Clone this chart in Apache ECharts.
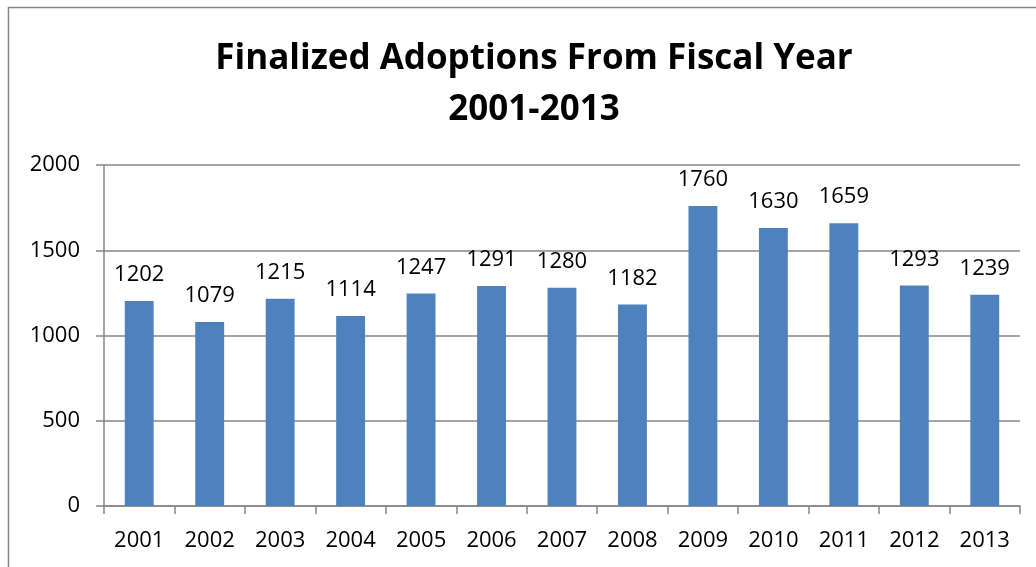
<!DOCTYPE html>
<html>
<head>
<meta charset="utf-8">
<script src="https://cdn.jsdelivr.net/npm/echarts@6/dist/echarts.min.js"></script>
<style>
html,body{margin:0;padding:0;background:#fff;}
#main{width:1036px;height:567px;}
</style>
</head>
<body>
<div id="main"></div>
<script>
const categories = ['2001','2002','2003','2004','2005','2006','2007','2008','2009','2010','2011','2012','2013'];
const adoptions = [1202,1079,1215,1114,1247,1291,1280,1182,1760,1630,1659,1293,1239];
const yTicks = [0,500,1000,1500,2000];

const chart = echarts.init(document.getElementById('main'), null, {renderer:'canvas'});
const font = '"Open Sans", sans-serif';
chart.setOption({
  animation:false,
  backgroundColor:'#fff',
  title:{
    text:'Finalized Adoptions From Fiscal Year\n2001-2013',
    left:529, top:29, textAlign:'center',
    textStyle:{fontFamily:font, fontWeight:'bold', fontSize:35, lineHeight:51, color:'#000'}
  },
  graphic:[{
    type:'rect', shape:{x:8.5,y:7.5,width:1100,height:700},
    style:{fill:'none', stroke:'#868686', lineWidth:1.5}, silent:true
  }],
  grid:{left:104, right:16, top:165, bottom:61, containLabel:false},
  xAxis:{
    type:'category', data:categories, boundaryGap:true,
    axisLine:{show:true, lineStyle:{color:'#868686', width:1.5}},
    axisTick:{show:true, length:8, lineStyle:{color:'#868686', width:1.5}},
    axisLabel:{color:'#000', fontFamily:font, fontSize:22, margin:24}
  },
  yAxis:{
    type:'value', min:yTicks[0], max:yTicks[yTicks.length-1], interval:500,
    axisLine:{show:true, lineStyle:{color:'#868686', width:1.5}},
    axisTick:{show:true, length:8, lineStyle:{color:'#868686', width:1.5}},
    splitLine:{show:true, lineStyle:{color:'#868686', width:1.5}},
    axisLabel:{color:'#000', fontFamily:font, fontSize:22, margin:24, formatter:function(v){return String(v);}}
  },
  series:[{
    type:'bar', data:adoptions, barWidth:'41%',
    itemStyle:{color:'#4F81BD'},
    label:{show:true, position:'top', distance:15, color:'#000', fontFamily:font, fontSize:22}
  }]
});
</script>
</body>
</html>
